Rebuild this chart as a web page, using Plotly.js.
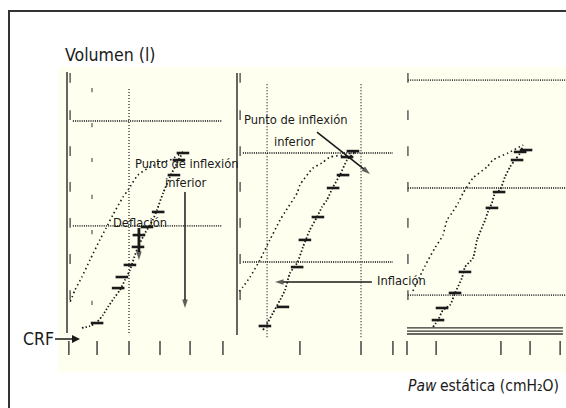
<!DOCTYPE html>
<html>
<head>
<meta charset="utf-8">
<script src="https://cdn.plot.ly/plotly-3.0.1.min.js"></script>
<style>
  html, body { margin: 0; padding: 0; background: #ffffff; }
  #chart { width: 566px; height: 408px; }
</style>
</head>
<body>
<div id="chart"></div>
<script>
// ---------- Data (Paw in cmH2O, volume in litres above CRF) ----------
// Panel 1
const p1DefP = [37.4, 33.2, 30.0, 26.8, 22.9, 19.7, 18.1, 14.8, 12.6, 10.6, 7.4, 4.8, 2.6, 1.0];
const p1DefV = [0.854, 0.816, 0.802, 0.783, 0.745, 0.675, 0.642, 0.557, 0.495, 0.439, 0.344, 0.264, 0.203, 0.146];
const p1InfP = [4.8, 7.4, 9.7, 11.6, 13.2, 15.2, 17.1, 18.7, 20.3, 21.6, 22.9, 25.2, 27.7, 29.0, 31.0, 33.2, 35.5, 37.4];
const p1InfV = [0.024, 0.033, 0.052, 0.085, 0.123, 0.165, 0.203, 0.250, 0.297, 0.354, 0.406, 0.472, 0.533, 0.580, 0.660, 0.736, 0.802, 0.854];
const p1BlobP = [9.7, 16.5, 17.7, 20.3, 22.9, 23.2, 25.8, 29.4, 34.5, 36.1, 37.4];
const p1BlobV = [0.047, 0.212, 0.264, 0.321, 0.406, 0.462, 0.500, 0.571, 0.745, 0.816, 0.849];
// Panel 2
const p2DefP = [38.1, 34.8, 30.0, 27.4, 24.5, 20.3, 19.4, 15.5, 13.9, 10.6, 7.4, 4.2, 1.9, 0.3];
const p2DefV = [0.854, 0.840, 0.830, 0.802, 0.778, 0.698, 0.660, 0.571, 0.533, 0.439, 0.344, 0.264, 0.217, 0.189];
const p2InfP = [8.4, 10.0, 11.6, 13.9, 15.5, 17.1, 19.4, 21.3, 23.5, 25.8, 27.4, 29.0, 31.0, 33.2, 35.5, 38.1];
const p2InfV = [0.014, 0.052, 0.094, 0.156, 0.203, 0.283, 0.330, 0.406, 0.486, 0.547, 0.594, 0.627, 0.689, 0.745, 0.816, 0.854];
const p2BlobP = [9.0, 14.8, 19.4, 21.9, 26.1, 31.0, 34.2, 35.5, 37.4];
const p2BlobV = [0.033, 0.123, 0.311, 0.439, 0.547, 0.684, 0.745, 0.830, 0.858];
// Panel 3
const p3DefP = [1.9, 5.8, 9.0, 11.6, 12.9, 14.5, 16.5, 18.1, 21.3, 25.8, 27.7, 32.6, 37.4];
const p3DefV = [0.198, 0.316, 0.401, 0.462, 0.533, 0.566, 0.613, 0.660, 0.731, 0.783, 0.816, 0.849, 0.887];
const p3InfP = [8.4, 10.0, 11.6, 13.9, 15.5, 17.7, 18.7, 21.3, 22.6, 25.2, 26.1, 27.4, 28.4, 30.0, 31.6, 33.2, 34.8, 36.5, 37.4];
const p3InfV = [0.028, 0.061, 0.108, 0.132, 0.189, 0.259, 0.311, 0.354, 0.439, 0.533, 0.571, 0.613, 0.660, 0.675, 0.736, 0.783, 0.816, 0.849, 0.887];
const p3BlobP = [10.0, 11.3, 15.5, 18.7, 27.4, 29.7, 35.5, 36.5, 38.4];
const p3BlobV = [0.061, 0.118, 0.189, 0.288, 0.590, 0.665, 0.816, 0.854, 0.863];
const p3BaseV = [0.024, 0.009, -0.005];

// Grid levels
const p1GridV = [0.505, 1.0];
const p1GridP = [20.0];
const p2GridV = [0.335, 0.849];
const p2GridP = [9.7, 40.0];
const p3GridV = [0.179, 0.684, 1.193];

// Tick marks (scanned axes)
const p1TickP = [0.6, 9.7, 20.0, 30.0, 39.7, 50.3];
const p2TickP = [20.3, 40.0, 50.3];
const p3TickP = [0.0, 9.4, 30.3, 39.7, 49.4];
const volTickV = [1.203, 1.028, 0.858, 0.689, 0.519, 0.349, 0.179];
const p1SpeckV = [1.146, 0.981, 0.816, 0.642, 0.476, 0.142];

// Annotation arrows (tail -> head), in each panel's Paw / volume units
const arrowLongP1 = {xa: 'x',  p: [38.06, 38.06], v: [0.665, 0.118], w: 1.5, s: 9};
const arrowDefP1  = {xa: 'x',  p: [23.2, 23.2],   v: [0.495, 0.344], w: 2.8, s: 9};
const arrowPiiP2  = {xa: 'x2', p: [25.8, 42.9],   v: [0.948, 0.750], w: 1.6, s: 9};
const arrowInfP2  = {xa: 'x2', p: [43.5, 12.26],  v: [0.2406, 0.2406], w: 1.6, s: 9};

// ---------- Styling / geometry ----------
const W = 566, H = 408;
const FONT = '"Liberation Sans Narrow", "DejaVu Sans Condensed", "Arial Narrow", sans-serif';
const INK = '#1a1a1a';
const GRID = '#3a3a3a';
const tickRowV = -0.071;
const panels = [
  {xa: 'x',  def: [p1DefP, p1DefV], inf: [p1InfP, p1InfV], blob: [p1BlobP, p1BlobV],
   gridV: p1GridV, gridSpan: [1.9, 50.0], gridP: p1GridP, gridPSpan: [0, 1.16],
   axis: [0, 1.231], ticks: p1TickP, volTickP: 1.0},
  {xa: 'x2', def: [p2DefP, p2DefV], inf: [p2InfP, p2InfV], blob: [p2BlobP, p2BlobV],
   gridV: p2GridV, gridSpan: [1.9, 50.3], gridP: p2GridP, gridPSpan: [-0.02, 1.179],
   axis: [-0.01, 1.226], ticks: p2TickP, volTickP: 1.0},
  {xa: 'x3', def: [p3DefP, p3DefV], inf: [p3InfP, p3InfV], blob: [p3BlobP, p3BlobV],
   gridV: p3GridV, gridSpan: [0.3, 51.3], gridP: [], gridPSpan: null,
   axis: null, ticks: p3TickP, volTickP: 0.3}
];

const traces = [];

panels.forEach((pn) => {
  const hx = [], hy = [];
  pn.gridV.forEach(v => { hx.push(pn.gridSpan[0], pn.gridSpan[1], null); hy.push(v, v, null); });
  traces.push({type: 'scatter', mode: 'lines', xaxis: pn.xa, yaxis: 'y', x: hx, y: hy,
    line: {color: GRID, width: 1.8, dash: '1px,1.2px'}, hoverinfo: 'skip', showlegend: false});
  if (pn.gridP.length) {
    const vx = [], vy = [];
    pn.gridP.forEach(p => { vx.push(p, p, null); vy.push(pn.gridPSpan[0], pn.gridPSpan[1], null); });
    traces.push({type: 'scatter', mode: 'lines', xaxis: pn.xa, yaxis: 'y', x: vx, y: vy,
      line: {color: GRID, width: 1.4, dash: '1px,2px'}, hoverinfo: 'skip', showlegend: false});
  }
  if (pn.axis) {
    traces.push({type: 'scatter', mode: 'lines', xaxis: pn.xa, yaxis: 'y', x: [0, 0], y: pn.axis,
      line: {color: '#333333', width: 1.5}, hoverinfo: 'skip', showlegend: false});
  }
  traces.push({type: 'scatter', mode: 'markers', xaxis: pn.xa, yaxis: 'y',
    x: volTickV.map(() => pn.volTickP), y: volTickV,
    marker: {symbol: 'line-ns', size: 7, line: {color: '#444', width: 1.3}},
    hoverinfo: 'skip', showlegend: false});
  traces.push({type: 'scatter', mode: 'markers', xaxis: pn.xa, yaxis: 'y',
    x: pn.ticks, y: pn.ticks.map(() => tickRowV),
    marker: {symbol: 'line-ns', size: 10, line: {color: '#444', width: 1.5}},
    hoverinfo: 'skip', showlegend: false});
  traces.push({type: 'scatter', mode: 'lines', xaxis: pn.xa, yaxis: 'y',
    x: pn.def[0], y: pn.def[1], line: {color: INK, width: 1.6, dash: '1.5px,3px', shape: 'spline', smoothing: 0.6},
    hoverinfo: 'skip', showlegend: false});
  traces.push({type: 'scatter', mode: 'lines', xaxis: pn.xa, yaxis: 'y',
    x: pn.inf[0], y: pn.inf[1], line: {color: INK, width: 1.8, dash: '1.5px,2px', shape: 'spline', smoothing: 0.6},
    hoverinfo: 'skip', showlegend: false});
  traces.push({type: 'scatter', mode: 'markers', xaxis: pn.xa, yaxis: 'y',
    x: pn.blob[0], y: pn.blob[1],
    marker: {symbol: 'line-ew', size: 9, line: {color: INK, width: 2.6}},
    hoverinfo: 'skip', showlegend: false});
});

traces.push({type: 'scatter', mode: 'markers', xaxis: 'x', yaxis: 'y',
  x: p1SpeckV.map(() => 8.06), y: p1SpeckV,
  marker: {symbol: 'line-ns', size: 3, line: {color: '#555', width: 1.2}},
  hoverinfo: 'skip', showlegend: false});

p3BaseV.forEach(v => {
  traces.push({type: 'scatter', mode: 'lines', xaxis: 'x3', yaxis: 'y', x: [0, 50.3], y: [v, v],
    line: {color: '#333', width: 1.4}, hoverinfo: 'skip', showlegend: false});
});

// arrows drawn as line + arrow marker at the head
[arrowLongP1, arrowDefP1, arrowPiiP2, arrowInfP2].forEach(a => {
  traces.push({type: 'scatter', mode: 'lines+markers', xaxis: a.xa, yaxis: 'y', x: a.p, y: a.v,
    line: {color: INK, width: a.w},
    marker: {symbol: ['circle', 'arrow'], size: [0, a.s], angleref: 'previous', color: INK,
             line: {width: 0}},
    cliponaxis: false, hoverinfo: 'skip', showlegend: false});
});

const px = v => v / W, py = v => (H - v) / H;
const axCommon = {visible: false, fixedrange: true, showgrid: false, zeroline: false};
const lbl = (x, y, text, size, anchor, style) => ({xref: 'paper', yref: 'paper', x: px(x), y: py(y),
  xanchor: anchor || 'center', yanchor: 'middle', text: text, showarrow: false,
  font: {size: size, family: FONT, color: INK, style: style || 'normal'}});

const layout = {
  width: W, height: H, autosize: false,
  margin: {l: 0, r: 0, t: 0, b: 0, pad: 0},
  paper_bgcolor: '#ffffff', plot_bgcolor: 'rgba(0,0,0,0)',
  showlegend: false,
  font: {family: FONT, color: INK},
  xaxis:  Object.assign({}, axCommon, {domain: [px(58), px(232)],  range: [-2.903, 53.226], anchor: 'y'}),
  xaxis2: Object.assign({}, axCommon, {domain: [px(232), px(400)], range: [-1.613, 52.581], anchor: 'y'}),
  xaxis3: Object.assign({}, axCommon, {domain: [px(400), 1],       range: [-2.258, 51.290], anchor: 'y'}),
  yaxis:  Object.assign({}, axCommon, {domain: [py(372), py(67)],  range: [-0.18396, 1.25472], anchor: 'x'}),
  shapes: [
    {type: 'rect', xref: 'paper', yref: 'paper', x0: px(58), x1: 1, y0: py(372), y1: py(67),
     fillcolor: '#fffff0', line: {width: 0}, layer: 'below'},
    {type: 'rect', xref: 'paper', yref: 'paper', x0: px(9), x1: 1.02, y0: -0.02, y1: py(11),
     fillcolor: 'rgba(0,0,0,0)', line: {color: '#333333', width: 2}, layer: 'above'}
  ],
  annotations: [
    lbl(63, 55, 'Volumen (l)', 17.6, 'left'),
    lbl(439, 386, 'Paw', 15.5, 'right', 'italic'),
    lbl(561, 386, 'estática (cmH₂O)', 15.5, 'right'),
    {xref: 'x', yref: 'y', x: 4.2, y: -0.028, ax: -42, ay: 0, text: 'CRF',
     showarrow: true, arrowhead: 2, arrowsize: 1, arrowwidth: 1.6, arrowcolor: INK, standoff: 0,
     font: {size: 17.5, family: FONT, color: INK}},
    lbl(186.5, 163, 'Punto de inflexión', 12.8),
    lbl(186, 183, 'inferior', 12.8),
    lbl(140, 222, 'Deflación', 12.8),
    lbl(296.5, 120, 'Punto de inflexión', 12.8),
    lbl(295, 141, 'inferior', 12.8),
    lbl(401, 280, 'Inflación', 12.8)
  ]
};

Plotly.newPlot('chart', traces, layout, {staticPlot: true, displayModeBar: false, responsive: false});
</script>
</body>
</html>
